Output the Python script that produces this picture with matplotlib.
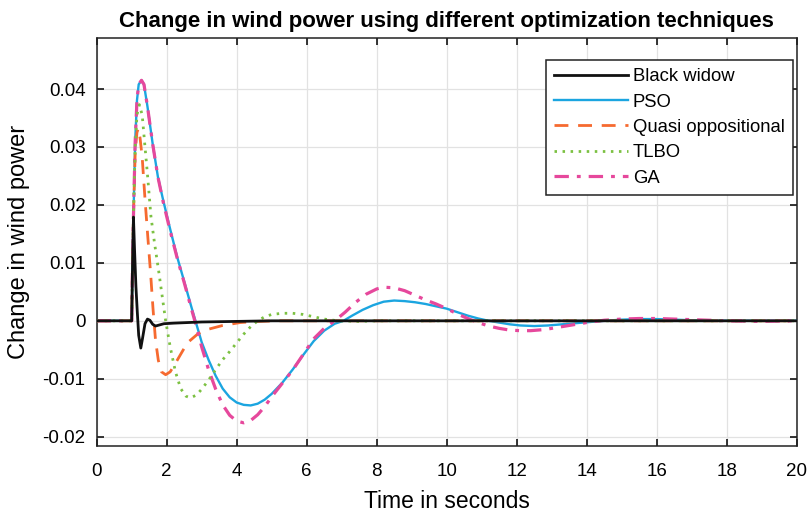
import matplotlib
matplotlib.use("Agg")
import matplotlib.pyplot as plt

# ---- data ----
t_bw = [0, 1.0, 1.02, 1.05, 1.08, 1.12, 1.16, 1.2, 1.26, 1.31, 1.38, 1.45, 1.52, 1.6, 1.68,
        1.8, 1.92, 2.2, 2.6, 3.0, 4.0, 5.0, 20]
v_bw = [0, 0, 0.008, 0.0179, 0.0125, 0.006, 0.0015, -0.0025, -0.0047, -0.003, -0.0005, 0.0003,
        0.0001, -0.0006, -0.0009, -0.0007, -0.0005, -0.0004, -0.0003, -0.0002, -0.0001, 0.0, 0.0]

t_pso = [0, 1.0, 1.02, 1.05, 1.1, 1.15, 1.2, 1.28, 1.35, 1.45, 1.6, 1.75, 1.9, 2.1, 2.3, 2.5,
         2.7, 2.85, 3.0, 3.2, 3.4, 3.6, 3.8, 4.0, 4.2, 4.4, 4.6, 4.8, 5.0, 5.3, 5.6, 5.9, 6.2,
         6.5, 6.8, 7.05, 7.3, 7.6, 7.9, 8.2, 8.5, 8.8, 9.1, 9.4, 9.7, 10.0, 10.3, 10.6, 10.9,
         11.2, 11.5, 11.8, 12.1, 12.5, 12.9, 13.3, 13.7, 14.1, 14.5, 15, 15.5, 16, 16.5, 17,
         18, 19, 20]
v_pso = [0, 0, 0.008, 0.018, 0.031, 0.038, 0.0408, 0.0415, 0.0408, 0.037, 0.0305, 0.0248,
         0.0208, 0.0158, 0.011, 0.0068, 0.0025, -0.0006, -0.0037, -0.0068, -0.0095, -0.0117,
         -0.0132, -0.0141, -0.0145, -0.0146, -0.0143, -0.0136, -0.0126, -0.0107, -0.0084,
         -0.0059, -0.0035, -0.0017, -0.0005, 0.0, 0.0009, 0.0019, 0.0027, 0.0033, 0.0035,
         0.0034, 0.0032, 0.0029, 0.0025, 0.0021, 0.0015, 0.0009, 0.0004, 0.0, -0.0003, -0.0006,
         -0.0008, -0.0009, -0.0008, -0.0006, -0.0004, -0.0002, 0.0, 0.0002, 0.0003, 0.0003,
         0.0002, 0.0001, 0.0, 0.0, 0.0]

t_qo = [0, 1.0, 1.02, 1.05, 1.1, 1.15, 1.19, 1.24, 1.3, 1.38, 1.46, 1.54, 1.61, 1.68, 1.76,
        1.85, 1.97, 2.1, 2.3, 2.59, 2.9, 3.16, 3.6, 4.1, 4.6, 5.2, 20]
v_qo = [0, 0, 0.008, 0.018, 0.029, 0.0325, 0.0332, 0.0315, 0.0282, 0.021, 0.0145, 0.0082,
        0.002, -0.0033, -0.0068, -0.0088, -0.0093, -0.0088, -0.0068, -0.0038, -0.0022,
        -0.0015, -0.0008, -0.0003, -0.0001, 0.0, 0.0]

t_tlbo = [0, 1.0, 1.02, 1.05, 1.1, 1.15, 1.22, 1.3, 1.38, 1.45, 1.55, 1.65, 1.78, 1.9, 1.97,
          2.1, 2.25, 2.4, 2.55, 2.68, 2.85, 3.0, 3.2, 3.4, 3.6, 3.8, 4.0, 4.2, 4.4, 4.6, 4.8,
          5.0, 5.3, 5.6, 5.9, 6.2, 6.5, 6.9, 7.5, 8.0, 20]
v_tlbo = [0, 0, 0.008, 0.018, 0.030, 0.0355, 0.0373, 0.0355, 0.030, 0.0253, 0.018, 0.0135,
          0.0082, 0.003, 0.0, -0.0045, -0.0088, -0.0117, -0.013, -0.0133, -0.0128, -0.0118,
          -0.0102, -0.0084, -0.0067, -0.0053, -0.0038, -0.0023, -0.001, 0.0, 0.0007, 0.0011,
          0.0013, 0.0013, 0.0011, 0.0007, 0.0003, 0.0, -0.0001, 0.0, 0.0]

t_ga = [0, 1.0, 1.02, 1.05, 1.1, 1.15, 1.2, 1.28, 1.35, 1.45, 1.6, 1.75, 1.9, 2.1, 2.3, 2.5,
        2.7, 2.85, 3.0, 3.2, 3.4, 3.6, 3.8, 4.0, 4.2, 4.4, 4.6, 4.8, 5.0, 5.3, 5.6, 5.9, 6.2,
        6.5, 6.8, 7.1, 7.4, 7.7, 8.0, 8.2, 8.5, 8.8, 9.1, 9.4, 9.7, 10.0, 10.3, 10.6, 10.9,
        11.2, 11.5, 11.8, 12.1, 12.4, 12.8, 13.2, 13.6, 14.0, 14.5, 15, 15.5, 16, 16.5, 17,
        17.5, 18, 19, 20]
v_ga = [0, 0, 0.008, 0.018, 0.031, 0.038, 0.0408, 0.0415, 0.0408, 0.037, 0.0305, 0.0248,
        0.0205, 0.0155, 0.0108, 0.0066, 0.0022, -0.001, -0.0045, -0.0085, -0.0118, -0.0145,
        -0.0163, -0.0173, -0.0176, -0.0172, -0.0162, -0.0148, -0.0131, -0.0108, -0.0085,
        -0.0058, -0.0031, -0.0013, 0.0, 0.0015, 0.0032, 0.0046, 0.0055, 0.0058, 0.0057,
        0.0052, 0.0044, 0.0036, 0.0029, 0.0021, 0.0012, 0.0004, -0.0003, -0.0009, -0.0013,
        -0.0016, -0.0017, -0.0017, -0.0015, -0.0011, -0.0007, -0.0003, 0.0001, 0.0003,
        0.0004, 0.0004, 0.0003, 0.0002, 0.0001, 0.0, -0.0001, 0.0]

labels = ["Black widow", "PSO", "Quasi oppositional", "TLBO", "GA"]
x_ticks = [0, 2, 4, 6, 8, 10, 12, 14, 16, 18, 20]
y_ticks = [-0.02, -0.01, 0, 0.01, 0.02, 0.03, 0.04]
y_tick_labels = ['-0.02', '-0.01', '0', '0.01', '0.02', '0.03', '0.04']

plt.rcParams['font.family'] = ['Liberation Sans', 'DejaVu Sans']

W, H = 811, 516
fig = plt.figure(figsize=(W / 100, H / 100), dpi=100)
ax_l, ax_r, ax_t, ax_b = 96.7, 796.7, 38.3, 446.0
ax = fig.add_axes([ax_l / W, 1 - ax_b / H, (ax_r - ax_l) / W, (ax_b - ax_t) / H])

ax.plot(t_bw, v_bw, color='#111111', lw=2.0, label=labels[0], zorder=6)
ax.plot(t_pso, v_pso, color='#1BA5E0', lw=1.7, label=labels[1], zorder=3)
ax.plot(t_qo, v_qo, color='#F66A30', lw=2.0, dashes=(5, 3.5), label=labels[2], zorder=4)
ax.plot(t_tlbo, v_tlbo, color='#7CC142', lw=2.0, linestyle=(0, (0.9, 2.0)), label=labels[3], zorder=5)
ax.plot(t_ga, v_ga, color='#E6489C', lw=2.3, linestyle=(0, (4.5, 2.5, 1.2, 2.5)), label=labels[4], zorder=4)

ax.set_xlim(0, 20)
ax.set_ylim(-0.0216, 0.04875)
ax.set_xticks(x_ticks)
ax.set_yticks(y_ticks)
ax.set_yticklabels(y_tick_labels)
ax.tick_params(direction='in', top=True, right=True, labelsize=13.5, length=5, width=1.1)
ax.tick_params(axis='x', pad=12.5)
ax.tick_params(axis='y', pad=8)
ax.grid(True, color='#e2e2e2', lw=0.9)
ax.set_axisbelow(True)
for s in ax.spines.values():
    s.set_linewidth(1.1)
    s.set_color('#222222')

ax.set_title('Change in wind power using different optimization techniques',
             fontsize=16, fontweight='bold', pad=8)
ax.set_xlabel('Time in seconds', fontsize=16.5, labelpad=7)
ax.set_ylabel('Change in wind power', fontsize=17, labelpad=9)

lx = (793 - ax_l) / (ax_r - ax_l)
ly = (ax_b - 60) / (ax_b - ax_t)
leg = ax.legend(loc='upper right', bbox_to_anchor=(lx, ly), fontsize=13.3, frameon=True,
                fancybox=False, edgecolor='#222222', handlelength=4.0, handletextpad=0.25,
                borderaxespad=0.0, labelspacing=0.45, borderpad=0.45, framealpha=1)
leg.get_frame().set_linewidth(1.1)

fig.savefig('out.png', dpi=100)
